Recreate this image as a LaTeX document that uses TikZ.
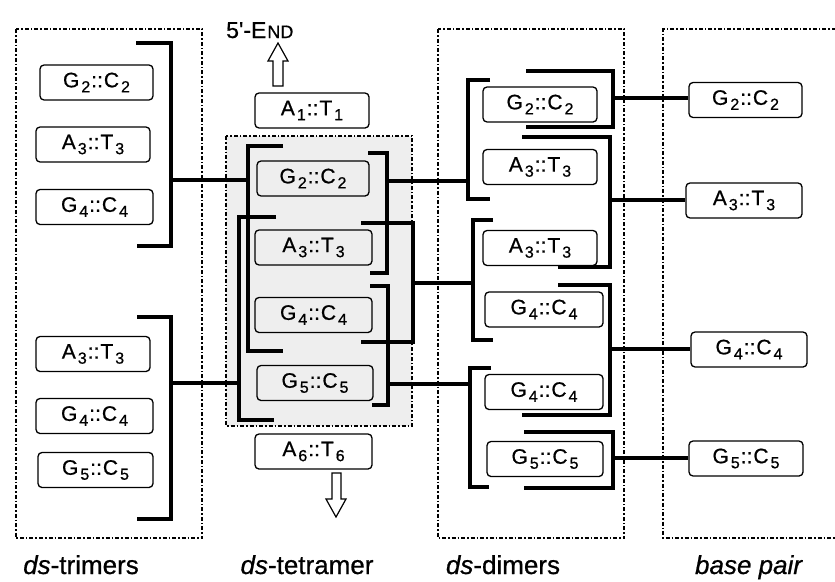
\documentclass[tikz,border=0pt]{standalone}
\usepackage{fontspec}
\setmainfont{Liberation Sans}
\newfontfamily\heavyfont{Liberation Sans}[FakeBold=0.7]
\newcommand{\subn}[1]{\raisebox{-5pt}{\fontsize{16}{16}\selectfont #1}}
\newcommand{\bpair}[4]{#1\kern2pt\subn{#2}\kern1pt::\kern1pt#3\kern2pt\subn{#4}}
\tikzset{
  bpbox/.style={draw, rounded corners=4pt, line width=1.3pt, minimum height=35pt, inner sep=0pt, font=\heavyfont\fontsize{21}{21}\selectfont},
  brk/.style={line width=4.5pt, line cap=butt},
  conn/.style={line width=3.2pt},
  grpbox/.style={line width=1.3pt, dash pattern=on 4pt off 2pt on 1.5pt off 2pt},
  hollow/.style={draw, fill=white, line width=1.2pt, line join=miter},
  lbl/.style={font=\heavyfont\fontsize{26}{26}\selectfont, anchor=base}
}
\begin{document}
\begin{tikzpicture}[x=1pt, y=-1pt]
\useasboundingbox (0,0) rectangle (835,581);
% group boxes
\fill[gray!13] (226,136) rectangle (412,426);
\draw[grpbox] (226,136) rectangle (412,426);
\draw[grpbox] (16,29) rectangle (202,538);
\draw[grpbox] (438,29) rectangle (624,538);
\draw[grpbox] (845,29) -- (663,29) -- (663,538) -- (845,538);

% trimer boxes
\node[bpbox, minimum width=113pt] (t1a) at (96.5,82.5) {\bpair{G}{2}{C}{2}};
\node[bpbox, minimum width=114pt] (t1b) at (93,144.5) {\bpair{A}{3}{T}{3}};
\node[bpbox, minimum width=117pt] (t1c) at (94.5,207) {\bpair{G}{4}{C}{4}};
\node[bpbox, minimum width=114pt] (t2a) at (93,354) {\bpair{A}{3}{T}{3}};
\node[bpbox, minimum width=117pt] (t2b) at (94.5,416) {\bpair{G}{4}{C}{4}};
\node[bpbox, minimum width=115pt] (t2c) at (95.5,470) {\bpair{G}{5}{C}{5}};

% tetramer boxes
\node[bpbox, minimum width=114pt] (a1) at (312,110.5) {\bpair{A}{1}{T}{1}};
\node[bpbox, minimum width=112pt] (q2) at (313,178.5) {\bpair{G}{2}{C}{2}};
\node[bpbox, minimum width=117pt] (q3) at (313.5,247.5) {\bpair{A}{3}{T}{3}};
\node[bpbox, minimum width=117pt] (q4) at (313.5,315) {\bpair{G}{4}{C}{4}};
\node[bpbox, minimum width=116pt] (q5) at (315,383) {\bpair{G}{5}{C}{5}};
\node[bpbox, minimum width=117pt] (a6) at (313.5,451.5) {\bpair{A}{6}{T}{6}};

% dimer boxes
\node[bpbox, minimum width=114pt] (d1) at (540,104.5) {\bpair{G}{2}{C}{2}};
\node[bpbox, minimum width=114pt] (d2) at (540,167) {\bpair{A}{3}{T}{3}};
\node[bpbox, minimum width=114pt] (d3) at (540,248) {\bpair{A}{3}{T}{3}};
\node[bpbox, minimum width=118pt] (d4) at (544,309.5) {\bpair{G}{4}{C}{4}};
\node[bpbox, minimum width=118pt] (d5) at (544,392) {\bpair{G}{4}{C}{4}};
\node[bpbox, minimum width=116pt] (d6) at (545,459) {\bpair{G}{5}{C}{5}};

% base pair boxes
\node[bpbox, minimum width=113pt] (b2) at (745.5,100) {\bpair{G}{2}{C}{2}};
\node[bpbox, minimum width=116pt] (b3) at (744,200.5) {\bpair{A}{3}{T}{3}};
\node[bpbox, minimum width=116pt] (b4) at (749,349.5) {\bpair{G}{4}{C}{4}};
\node[bpbox, minimum width=114pt] (b5) at (746,458.5) {\bpair{G}{5}{C}{5}};

% brackets: trimers
\draw[brk] (136,43) -- (171,43) -- (171,246) -- (137,246);
\coordinate (tb1) at (171,180);
\draw[brk] (137,317) -- (171,317) -- (171,519) -- (137,519);
\coordinate (tb2) at (171,383);
% tetramer left
\draw[brk] (283,146) -- (248,146) -- (248,351) -- (283,351);
\coordinate (qa) at (248,180);
\draw[brk] (276,217) -- (239,217) -- (239,420) -- (274,420);
\coordinate (qb) at (239,383);
% tetramer right
\draw[brk] (368,153) -- (387,153) -- (387,273) -- (370,273);
\coordinate (qc) at (387,181);
\draw[brk] (361,223) -- (413,223) -- (413,342) -- (361,342);
\coordinate (qd) at (413,283);
\draw[brk] (370,286) -- (388,286) -- (388,405) -- (372,405);
\coordinate (qe) at (388,384);
% dimers left
\draw[brk] (490,80) -- (468,80) -- (468,199) -- (490,199);
\coordinate (dl1) at (468,181);
\draw[brk] (493,220) -- (473,220) -- (473,340) -- (493,340);
\coordinate (dl2) at (473,283);
\draw[brk] (491,368) -- (470,368) -- (470,487) -- (489,487);
\coordinate (dl3) at (470,384);
% dimers right
\draw[brk] (526,71) -- (613,71) -- (613,127) -- (526,127);
\coordinate (dr1) at (613,98);
\draw[brk] (522,137) -- (610,137) -- (610,267) -- (558,267);
\coordinate (dr2) at (610,200);
\draw[brk] (558,285) -- (610,285) -- (610,415) -- (522,415);
\coordinate (dr3) at (610,349);
\draw[brk] (524,432) -- (613,432) -- (613,488) -- (524,488);
\coordinate (dr4) at (613,458);

% connectors
\draw[conn] (tb1) -- (qa);
\draw[conn] (tb2) -- (qb);
\draw[conn] (qc) -- (dl1);
\draw[conn] (qd) -- (dl2);
\draw[conn] (qe) -- (dl3);
\draw[conn] (dr1) -- (dr1 -| b2.west);
\draw[conn] (dr2) -- (dr2 -| b3.west);
\draw[conn] (dr3) -- (dr3 -| b4.west);
\draw[conn] (dr4) -- (dr4 -| b5.west);

% hollow arrows
\draw[hollow] (273,86) -- (273,61) -- (268,61) -- (278,43) -- (288,61) -- (283,61) -- (283,86) -- cycle;
\draw[hollow] (332,473) -- (332,499) -- (326,499) -- (336,517) -- (346,499) -- (341,499) -- (341,473) -- cycle;
\node[anchor=base west, inner sep=0pt] (fiveend) at (226,38) {\heavyfont\fontsize{23}{23}\selectfont 5'-E\kern1pt\fontsize{18}{18}\selectfont ND};

% labels
\node[lbl] (l1) at (81,574) {\textit{ds}-trimers};
\node[lbl] (l2) at (307,574) {\textit{ds}-tetramer};
\node[lbl] (l3) at (503,574) {\textit{ds}-dimers};
\node[lbl] (l4) at (749,574) {\textit{base pair}};
\end{tikzpicture}
\end{document}
